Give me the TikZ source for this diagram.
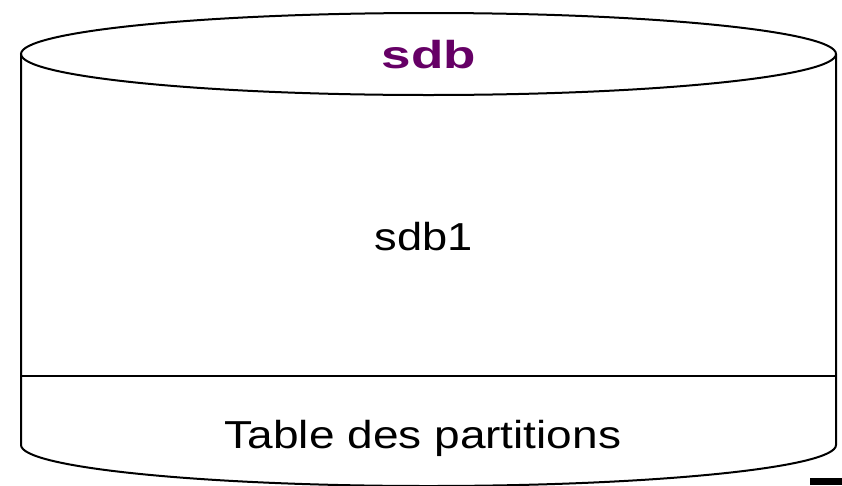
\documentclass[tikz,border=0pt]{standalone}
\usepackage{fontspec}
\setmainfont{Liberation Sans}
\definecolor{diskpurple}{HTML}{660066}
\begin{document}
\begin{tikzpicture}[x=1pt,y=-1pt,line width=2pt]
    \useasboundingbox (0,0) rectangle (842,485);
    % Disk body
    \draw (21,54) -- (21,445) arc[start angle=180,end angle=360,x radius=407.5pt,y radius=41pt] -- (836,54);
    \draw (428.5,54) ellipse[x radius=407.5pt,y radius=41pt];
    % Partition boundary
    \draw (21,376) -- (836,376);

    \node[anchor=base,font=\fontsize{39}{39}\selectfont\bfseries,text=diskpurple,xscale=1.36,transform shape] (disk) at (429,68) {sdb};
    \node[anchor=base,font=\fontsize{39}{39}\selectfont,xscale=1.16,transform shape] (part) at (423.5,250) {sdb1};
    \node[anchor=base,font=\fontsize{39}{39}\selectfont,xscale=1.18,transform shape] (table) at (423,448) {Table des partitions};

    % Corner mark
    \fill (810,478) rectangle (842,485);
\end{tikzpicture}
\end{document}
